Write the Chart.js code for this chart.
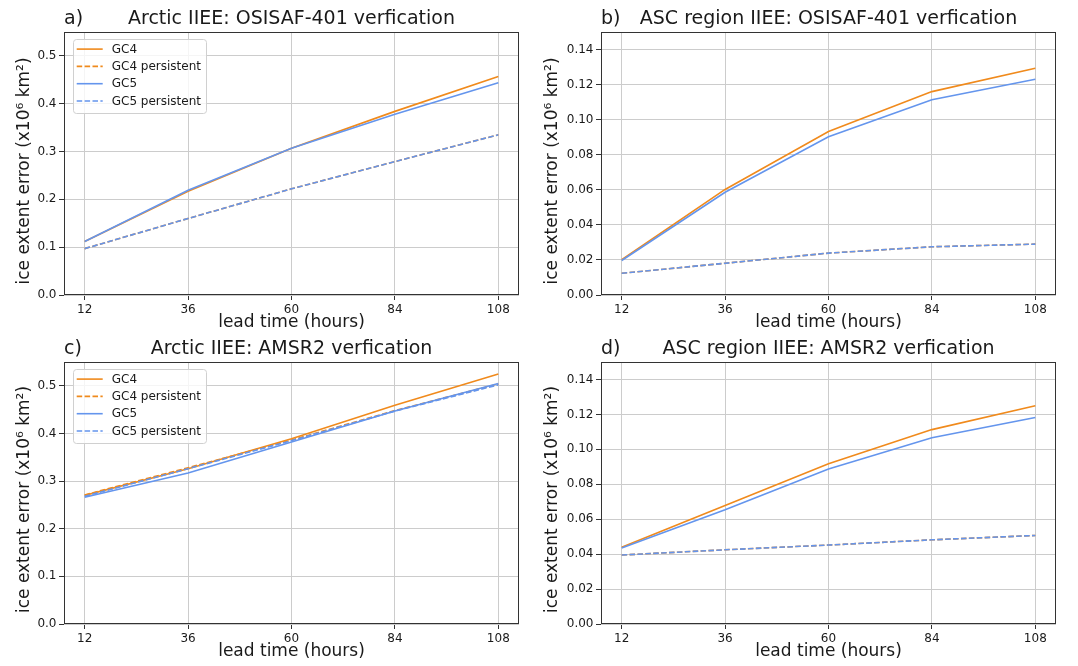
<!DOCTYPE html>
<html>
<head>
<meta charset="utf-8">
<script src="https://cdn.jsdelivr.net/npm/chart.js@4/dist/chart.umd.min.js"></script>
<style>
html, body { margin: 0; padding: 0; background: #ffffff; }
#wrap { position: relative; width: 1078px; height: 666px; overflow: hidden; }
.p { position: absolute; width: 539px; height: 333px; }
.p canvas { display: block; }
</style>
</head>
<body>
<div id="wrap">
  <div class="p" style="left:0px;top:0px"><canvas id="ca" width="539" height="333"></canvas></div>
  <div class="p" style="left:539px;top:0px"><canvas id="cb" width="539" height="333"></canvas></div>
  <div class="p" style="left:0px;top:333px"><canvas id="cc" width="539" height="333"></canvas></div>
  <div class="p" style="left:539px;top:333px"><canvas id="cd" width="539" height="333"></canvas></div>
</div>
<script>
// ---------------- data ----------------
const leadTimes = [12, 36, 60, 84, 108];
const xTickLabels = ['12', '36', '60', '84', '108'];
const yTickLabelsArctic = ['0.0', '0.1', '0.2', '0.3', '0.4', '0.5'];
const yTickLabelsASC = ['0.00', '0.02', '0.04', '0.06', '0.08', '0.10', '0.12', '0.14'];
const seriesNames = ['GC4', 'GC4 persistent', 'GC5', 'GC5 persistent'];
const panelLetters = ['a)', 'b)', 'c)', 'd)'];
const panelTitles = [
  'Arctic IIEE: OSISAF-401 verfication',
  'ASC region IIEE: OSISAF-401 verfication',
  'Arctic IIEE: AMSR2 verfication',
  'ASC region IIEE: AMSR2 verfication'
];
const xAxisTitle = 'lead time (hours)';
const yAxisTitle = 'ice extent error (x10\u2076 km\u00B2)';

// a) Arctic, OSISAF-401
const arcticOsisafGC4           = [0.112, 0.217, 0.307, 0.384, 0.457];
const arcticOsisafGC4Persistent = [0.097, 0.160, 0.222, 0.279, 0.335];
const arcticOsisafGC5           = [0.112, 0.219, 0.307, 0.378, 0.444];
const arcticOsisafGC5Persistent = [0.097, 0.160, 0.222, 0.279, 0.335];

// b) ASC region, OSISAF-401
const ascOsisafGC4           = [0.0201, 0.0602, 0.0932, 0.1160, 0.1293];
const ascOsisafGC4Persistent = [0.0124, 0.0181, 0.0239, 0.0275, 0.0290];
const ascOsisafGC5           = [0.0197, 0.0586, 0.0903, 0.1114, 0.1230];
const ascOsisafGC5Persistent = [0.0124, 0.0181, 0.0239, 0.0275, 0.0290];

// c) Arctic, AMSR2
const arcticAmsrGC4           = [0.270, 0.326, 0.389, 0.459, 0.525];
const arcticAmsrGC4Persistent = [0.271, 0.328, 0.386, 0.448, 0.504];
const arcticAmsrGC5           = [0.266, 0.317, 0.382, 0.447, 0.505];
const arcticAmsrGC5Persistent = [0.268, 0.326, 0.385, 0.447, 0.502];

// d) ASC region, AMSR2
const ascAmsrGC4           = [0.0440, 0.0679, 0.0917, 0.1113, 0.1249];
const ascAmsrGC4Persistent = [0.0395, 0.0425, 0.0452, 0.0482, 0.0507];
const ascAmsrGC5           = [0.0435, 0.0654, 0.0888, 0.1066, 0.1182];
const ascAmsrGC5Persistent = [0.0395, 0.0425, 0.0452, 0.0482, 0.0507];

// ---------------- styling ----------------
const ORANGE = '#F08A1C';
const BLUE = '#6495ED';
const TEXT = '#1a1a1a';
const FONT = '"DejaVu Sans", "Liberation Sans", sans-serif';
Chart.defaults.font.family = FONT;
Chart.defaults.color = TEXT;

const framePlugin = {
  id: 'frame',
  afterDatasetsDraw(chart) {
    const a = chart.chartArea, ctx = chart.ctx;
    ctx.save();
    ctx.strokeStyle = '#333333';
    ctx.lineWidth = 1;
    ctx.setLineDash([]);
    ctx.strokeRect(Math.round(a.left) + 0.5, Math.round(a.top) + 0.5,
                   Math.round(a.right - a.left) - 1, Math.round(a.bottom - a.top) - 1);
    ctx.restore();
  }
};

const boxLegendPlugin = {
  id: 'boxLegend',
  afterDatasetsDraw(chart, args, opts) {
    if (!opts.show) return;
    const a = chart.chartArea, ctx = chart.ctx;
    const x0 = a.left + opts.offsetX, y0 = a.top + opts.offsetY;
    const w = 133, h = 74, rowH = 17.3, firstRow = 10.6;
    ctx.save();
    ctx.beginPath();
    ctx.roundRect(Math.round(x0) + 0.5, Math.round(y0) + 0.5, w, h, 3);
    ctx.fillStyle = 'rgba(255,255,255,0.8)';
    ctx.fill();
    ctx.strokeStyle = '#d0d0d0';
    ctx.lineWidth = 1;
    ctx.stroke();
    ctx.font = '12px ' + FONT;
    ctx.textBaseline = 'middle';
    ctx.textAlign = 'left';
    chart.data.datasets.forEach((ds, i) => {
      const cy = y0 + firstRow + i * rowH;
      ctx.strokeStyle = ds.borderColor;
      ctx.lineWidth = ds.borderWidth;
      ctx.setLineDash(ds.borderDash || []);
      ctx.beginPath();
      ctx.moveTo(x0 + 4, cy);
      ctx.lineTo(x0 + 30, cy);
      ctx.stroke();
      ctx.setLineDash([]);
      ctx.fillStyle = TEXT;
      ctx.fillText(ds.label, x0 + 39, cy + 0.5);
    });
    ctx.restore();
  }
};

const textPlugin = {
  id: 'panelText',
  afterDraw(chart, args, opts) {
    const ctx = chart.ctx, a = chart.chartArea;
    const tb = chart.titleBlock;
    const y = tb.top + tb.options.padding.top + (19 * 1.2) / 2;
    ctx.save();
    // panel letter, left-aligned with the axes
    ctx.font = '19px ' + FONT;
    ctx.fillStyle = TEXT;
    ctx.textAlign = 'left';
    ctx.textBaseline = 'middle';
    ctx.fillText(opts.letter, a.left, y);
    // y axis label
    ctx.font = '17px ' + FONT;
    ctx.textAlign = 'center';
    ctx.translate(opts.yTitleX, (a.top + a.bottom) / 2 + opts.yTitleShift);
    ctx.rotate(-Math.PI / 2);
    ctx.fillText(yAxisTitle, 0, 0);
    ctx.restore();
  }
};

function makeDatasets(gc4, gc4p, gc5, gc5p) {
  const base = { pointRadius: 0, pointHoverRadius: 0, borderWidth: 1.6, tension: 0, fill: false };
  const toXY = arr => arr.map((v, i) => ({ x: leadTimes[i], y: v }));
  return [
    Object.assign({ label: seriesNames[0], data: toXY(gc4), borderColor: ORANGE, order: 3 }, base),
    Object.assign({ label: seriesNames[1], data: toXY(gc4p), borderColor: ORANGE, borderDash: [5.5, 2.4], order: 2 }, base),
    Object.assign({ label: seriesNames[2], data: toXY(gc5), borderColor: BLUE, order: 1 }, base),
    Object.assign({ label: seriesNames[3], data: toXY(gc5p), borderColor: BLUE, borderDash: [5.5, 2.4], order: 0 }, base)
  ];
}

function makeChart(id, cfg) {
  const yLabels = cfg.yLabels;
  return new Chart(document.getElementById(id), {
    type: 'line',
    data: { datasets: makeDatasets(...cfg.series) },
    plugins: [framePlugin, boxLegendPlugin, textPlugin],
    options: {
      responsive: false,
      animation: false,
      events: [],
      layout: { padding: { left: 0, right: cfg.padRight, top: 0, bottom: 0 } },
      plugins: {
        legend: { display: false },
        tooltip: { enabled: false },
        title: {
          display: true,
          text: cfg.title,
          fullSize: false,
          color: TEXT,
          font: { size: 19, weight: 'normal', lineHeight: 1.2 },
          padding: { top: cfg.titlePadTop, bottom: cfg.titlePadBottom }
        },
        boxLegend: { show: cfg.legend, offsetX: 8.7, offsetY: 6.5 },
        panelText: { letter: cfg.letter, yTitleX: cfg.yTitleX, yTitleShift: cfg.yTitleShift }
      },
      scales: {
        x: {
          type: 'linear',
          min: 7.2,
          max: 112.8,
          afterBuildTicks: s => { s.ticks = leadTimes.map(v => ({ value: v })); },
          afterFit: s => { s.height = cfg.xAxisHeight; },
          ticks: {
            autoSkip: false,
            maxRotation: 0,
            padding: 3,
            color: TEXT,
            font: { size: 12 },
            callback: (v, i) => xTickLabels[i]
          },
          grid: { color: '#cccccc', lineWidth: 1, tickColor: '#333333', tickLength: 5 },
          border: { display: false },
          title: {
            display: true,
            text: xAxisTitle,
            color: TEXT,
            font: { size: 17, lineHeight: 1.2 },
            padding: { top: 0, bottom: cfg.xTitlePadBottom }
          }
        },
        y: {
          type: 'linear',
          min: 0,
          max: cfg.yMax,
          afterBuildTicks: s => { s.ticks = yLabels.map(t => ({ value: parseFloat(t) })); },
          afterFit: s => { s.width = cfg.yAxisWidth; },
          ticks: {
            autoSkip: false,
            padding: 2.5,
            color: TEXT,
            font: { size: 12 },
            callback: (v, i) => yLabels[i]
          },
          grid: { color: '#cccccc', lineWidth: 1, tickColor: '#333333', tickLength: 5 },
          border: { display: false },
          title: { display: false }
        }
      }
    }
  });
}

makeChart('ca', {
  series: [arcticOsisafGC4, arcticOsisafGC4Persistent, arcticOsisafGC5, arcticOsisafGC5Persistent],
  title: panelTitles[0], letter: panelLetters[0], yLabels: yTickLabelsArctic, yMax: 0.55,
  legend: true, padRight: 20, yAxisWidth: 64, xAxisHeight: 38,
  titlePadTop: 8, titlePadBottom: 1.2, xTitlePadBottom: 0, yTitleX: 24.5, yTitleShift: 7.5
});
makeChart('cb', {
  series: [ascOsisafGC4, ascOsisafGC4Persistent, ascOsisafGC5, ascOsisafGC5Persistent],
  title: panelTitles[1], letter: panelLetters[1], yLabels: yTickLabelsASC, yMax: 0.15,
  legend: false, padRight: 22, yAxisWidth: 62, xAxisHeight: 38,
  titlePadTop: 8, titlePadBottom: 1.2, xTitlePadBottom: 0, yTitleX: 14, yTitleShift: 7.5
});
makeChart('cc', {
  series: [arcticAmsrGC4, arcticAmsrGC4Persistent, arcticAmsrGC5, arcticAmsrGC5Persistent],
  title: panelTitles[2], letter: panelLetters[2], yLabels: yTickLabelsArctic, yMax: 0.55,
  legend: true, padRight: 20, yAxisWidth: 64, xAxisHeight: 42,
  titlePadTop: 4.5, titlePadBottom: 1.7, xTitlePadBottom: 4.5, yTitleX: 24.5, yTitleShift: 6.5
});
makeChart('cd', {
  series: [ascAmsrGC4, ascAmsrGC4Persistent, ascAmsrGC5, ascAmsrGC5Persistent],
  title: panelTitles[3], letter: panelLetters[3], yLabels: yTickLabelsASC, yMax: 0.15,
  legend: false, padRight: 22, yAxisWidth: 62, xAxisHeight: 42,
  titlePadTop: 4.5, titlePadBottom: 1.7, xTitlePadBottom: 4.5, yTitleX: 14, yTitleShift: 6.5
});
</script>
</body>
</html>
